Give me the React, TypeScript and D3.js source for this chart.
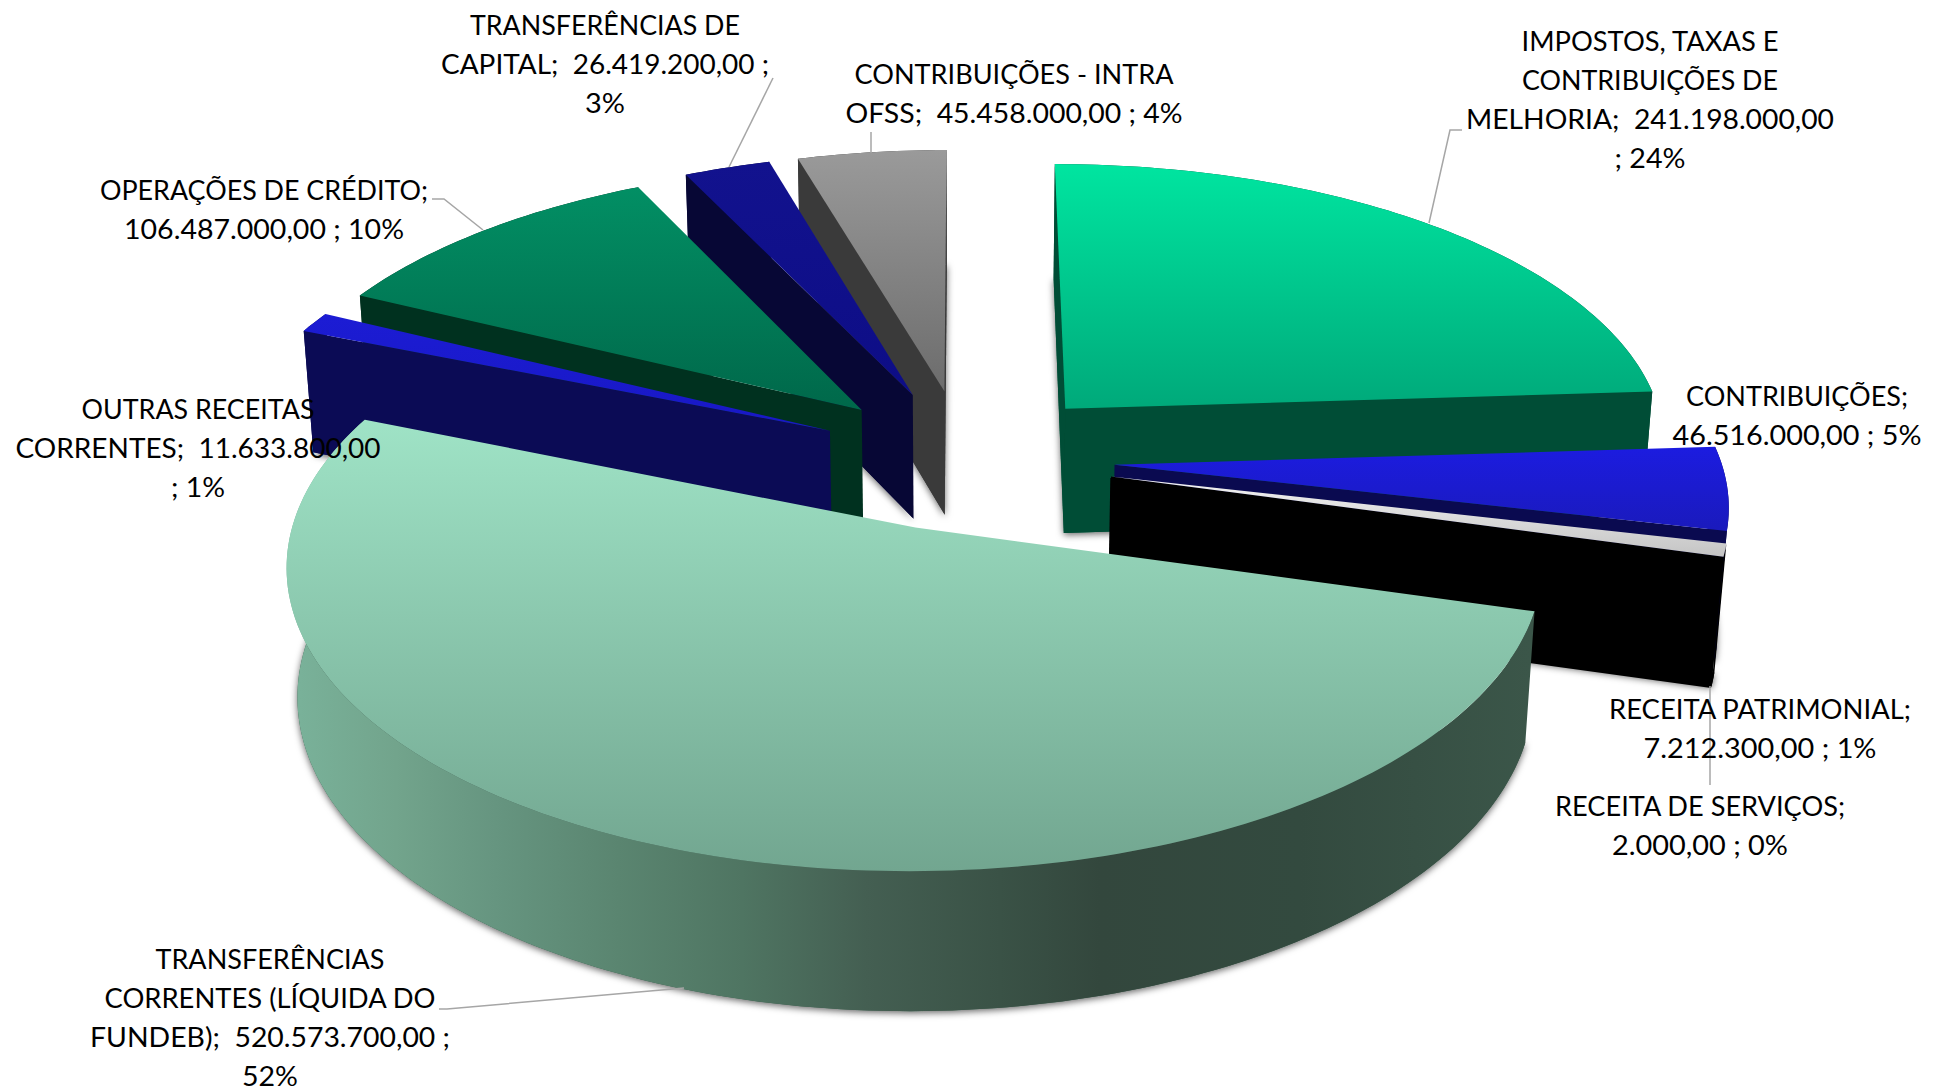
import React from "react";
import * as d3 from "d3";

// ---------- data ----------
const categories = [
  "IMPOSTOS, TAXAS E CONTRIBUIÇÕES DE MELHORIA",
  "CONTRIBUIÇÕES",
  "RECEITA PATRIMONIAL",
  "RECEITA DE SERVIÇOS",
  "TRANSFERÊNCIAS CORRENTES (LÍQUIDA DO FUNDEB)",
  "OUTRAS RECEITAS CORRENTES",
  "OPERAÇÕES DE CRÉDITO",
  "TRANSFERÊNCIAS DE CAPITAL",
  "CONTRIBUIÇÕES - INTRA OFSS",
];
const values = [241198000, 46516000, 7212300, 2000, 520573700, 11633800, 106487000, 26419200, 45458000];
const labelLines = [
  ["IMPOSTOS, TAXAS E", "CONTRIBUIÇÕES DE", "MELHORIA;\u00a0\u00a0241.198.000,00", "; 24%"],
  ["CONTRIBUIÇÕES;", "46.516.000,00 ; 5%"],
  ["RECEITA PATRIMONIAL;", "7.212.300,00 ; 1%"],
  ["RECEITA DE SERVIÇOS;", "2.000,00 ; 0%"],
  ["TRANSFERÊNCIAS", "CORRENTES (LÍQUIDA DO", "FUNDEB);\u00a0\u00a0520.573.700,00 ;", "52%"],
  ["OUTRAS RECEITAS", "CORRENTES;\u00a0\u00a011.633.800,00", "; 1%"],
  ["OPERAÇÕES DE CRÉDITO;", "106.487.000,00 ; 10%"],
  ["TRANSFERÊNCIAS DE", "CAPITAL;\u00a0\u00a026.419.200,00 ;", "3%"],
  ["CONTRIBUIÇÕES - INTRA", "OFSS;\u00a0\u00a045.458.000,00 ; 4%"],
];

// ---------- styles / layout ----------
const topColors = [
  ["#00e5a0", "#00a97a"],
  ["#1c1ce0", "#1a1abc"],
  ["#f4f4f4", "#c4c4c4"],
  ["#f4f4f4", "#c4c4c4"],
  ["#9fe3c6", "#72a690"],
  ["#1c1cd4", "#1818c4"],
  ["#028f64", "#00684a"],
  ["#12128e", "#0d0d86"],
  ["#9a9a9a", "#6c6c6c"],
];
const wallColors = ["#004d36", "#0a0a50", "#000000", "#000000", "#3a5548", "#0b0b55", "#00311f", "#070735", "#3a3a3a"];
const bigWallStops: [number, string][] = [
  [285, "#7ab39b"], [396, "#72a48c"], [495, "#669580"], [619, "#5a8570"], [742, "#4f7562"], [866, "#445f52"],
  [1000, "#3a5246"], [1100, "#33473d"], [1300, "#334a3f"], [1530, "#3b5649"],
];
const labelCenters: [number, number][] = [
  [1650, 41], [1797, 396], [1760, 709], [1700, 806], [270, 959], [198, 409], [264, 190], [605, 25], [1014, 74],
];
const labelWidths = [
  [257, 256, 368, 71],
  [222, 249],
  [302, 233],
  [290, 176],
  [229, 331, 360, 56],
  [233, 365, 54],
  [328, 280],
  [270, 328, 40],
  [319, 337],
];
const leaders = [
  [[1462, 130], [1450, 130], [1429, 223]],
  [[1710, 686], [1710, 785]],
  [[439, 1009], [447, 1009], [684, 988]],
  [[432, 199], [444, 199], [483, 230]],
  [[773, 78], [729, 167]],
  [[871, 132], [871, 153]],
];
// draw order: back slices first, the large front slice last
const drawOrder = [8, 7, 6, 5, 0, 1, 2, 3, 4];

// view parameters of the tilted pie
const O = { x: 965, y: 459 };
const RX = 606, RY = 285, H = 128, K = -0.119, N = 0.0155, EXPLODE = 0.247;
const FONT = 26.8, LINE = 39;

type P = [number, number];
const project = (X: number, Y: number, Z: number): P => {
  const w = 1 + K * Y + N * Z;
  return [O.x + (RX * X) / w, O.y + (RY * Y + H * Z) / w];
};

const pie = d3.pie<number>().sort(null).startAngle(0).endAngle(2 * Math.PI)(values);
const line = d3.line();

export default function App() {
  const slices = pie.map((p, i) => {
    const mid = (p.startAngle + p.endAngle) / 2;
    const ox = EXPLODE * Math.sin(mid), oy = -EXPLODE * Math.cos(mid);
    const pt = (a: number, r: number, z: number) => project(ox + r * Math.sin(a), oy - r * Math.cos(a), z);
    const n = Math.max(2, Math.ceil((p.endAngle - p.startAngle) / 0.02));
    const angles = d3.range(n + 1).map((k) => p.startAngle + ((p.endAngle - p.startAngle) * k) / n);
    const face = (z: number) => line([pt(0, 0, z), ...angles.map((a) => pt(a, 1, z))]) + "Z";
    const outer = line([...angles.map((a) => pt(a, 1, 0)), ...angles.slice().reverse().map((a) => pt(a, 1, 1))]) + "Z";
    const radial = (a: number) => line([pt(0, 0, 0), pt(a, 1, 0), pt(a, 1, 1), pt(0, 0, 1)]) + "Z";
    const radials: string[] = [];
    if (Math.sin(p.startAngle) * -1 > -0.02) radials.push(radial(p.startAngle));
    if (Math.sin(p.endAngle) > -0.02) radials.push(radial(p.endAngle));
    return { i, top: face(0), bottom: face(1), outer, radials };
  });

  return (
    <svg width={1941} height={1092} viewBox="0 0 1941 1092" style={{ position: "fixed", left: 0, top: 0, display: "block", background: "#fff" }}>
      <defs>
        {topColors.map((c, i) => (
          <linearGradient key={i} id={`top${i}`} x1="0" y1="0" x2="0" y2="1">
            <stop offset="0" stopColor={c[0]} />
            <stop offset="1" stopColor={c[1]} />
          </linearGradient>
        ))}
        <linearGradient id="bigWall" gradientUnits="userSpaceOnUse" x1={285} x2={1530} y1={0} y2={0}>
          {bigWallStops.map(([x, c], i) => (
            <stop key={i} offset={(x - 285) / (1530 - 285)} stopColor={c} />
          ))}
        </linearGradient>
        <filter id="soft" x="-10%" y="-10%" width="120%" height="120%">
          <feDropShadow dx="0" dy="2" stdDeviation="3.5" floodColor="#000" floodOpacity="0.6" />
        </filter>
      </defs>
      {drawOrder.map((idx) => {
        const s = slices[idx];
        const wall = idx === 4 ? "url(#bigWall)" : wallColors[idx];
        return (
          <g key={idx}>
            <path d={s.bottom} fill={wallColors[idx]} filter="url(#soft)" />
            <path d={s.outer} fill={wall} />
            {s.radials.map((d, k) => (
              <path key={k} d={d} fill={wallColors[idx]} />
            ))}
            <path d={s.top} fill={`url(#top${idx})`} />
          </g>
        );
      })}
      {leaders.map((pts, i) => (
        <path key={i} d={line(pts as P[]) as string} fill="none" stroke="#a6a6a6" strokeWidth={1.5} />
      ))}
      {labelLines.map((lines, i) => (
        <g key={i} fontFamily="Lato, 'Open Sans', sans-serif" fontSize={FONT} fill="#000">
          {lines.map((t, k) => (
            <text
              key={k}
              x={labelCenters[i][0]}
              y={labelCenters[i][1] + k * LINE}
              dy="0.36em"
              textAnchor="middle"
              textLength={labelWidths[i][k]}
              lengthAdjust="spacingAndGlyphs"
            >
              {t}
            </text>
          ))}
        </g>
      ))}
      <title>{categories.join(", ")}</title>
    </svg>
  );
}
